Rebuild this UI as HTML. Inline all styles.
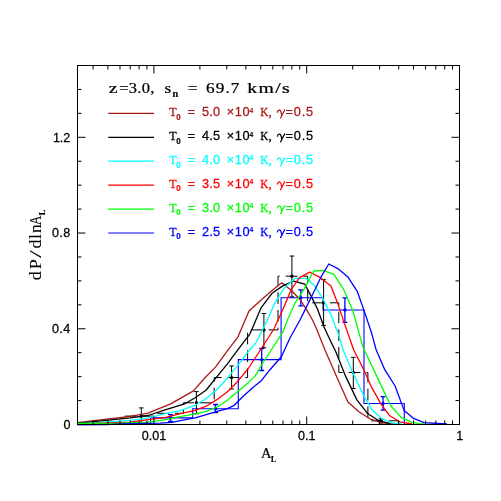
<!DOCTYPE html><html><head><meta charset="utf-8"><style>html,body{margin:0;padding:0;background:#fff}svg{display:block;will-change:transform}text{font-family:"Liberation Sans",sans-serif}.s{font-family:"Liberation Serif",serif}</style></head><body>
<svg width="501" height="501" viewBox="0 0 501 501">
<rect width="501" height="501" fill="#fff"/>
<polyline fill="none" stroke="#0000ff" stroke-width="1.1" points="77.5,424.6 108.2,424.6 108.2,423.2 150.5,423.2 150.5,417.9 192.7,417.9 192.7,408.7 238.3,408.7 238.3,359.6 281.1,359.6 281.1,297.8 323.0,297.8 323.0,310.0 364.0,310.0 364.0,403.5 404.3,403.5 404.3,424.0"/>
<g stroke="#0000ff" stroke-width="1.3" fill="#0000ff">
<path d="M170.5 414.6V421.4M168.0 414.6h5M168.0 421.4h5" fill="none"/>
<circle cx="170.5" cy="417.9" r="1.7" stroke="none"/>
<path d="M215.5 404.5V412.6M213.0 404.5h5M213.0 412.6h5" fill="none"/>
<circle cx="215.5" cy="408.7" r="1.7" stroke="none"/>
<path d="M261.7 348.5V370.5M259.2 348.5h5M259.2 370.5h5" fill="none"/>
<circle cx="261.7" cy="359.6" r="1.7" stroke="none"/>
<path d="M300.8 289.9V305.8M298.3 289.9h5M298.3 305.8h5" fill="none"/>
<circle cx="300.8" cy="297.8" r="1.7" stroke="none"/>
<path d="M344.9 297.9V322.3M342.4 297.9h5M342.4 322.3h5" fill="none"/>
<circle cx="344.9" cy="310.0" r="1.7" stroke="none"/>
<path d="M383.0 396.6V410.2M380.5 396.6h5M380.5 410.2h5" fill="none"/>
<circle cx="383.0" cy="403.5" r="1.7" stroke="none"/>
</g>
<polyline fill="none" stroke="#000" stroke-width="1" stroke-dasharray="11.7,6" stroke-dashoffset="15.5" points="77.5,424.2 94.0,424.2 94.0,423.4 124.7,423.4 124.7,416.1 153.9,416.1 153.9,413.3 183.4,413.3 183.4,402.8 214.2,402.8 214.2,377.5 247.6,377.5 247.6,329.9 278.0,329.9 278.0,276.2 307.7,276.2 307.7,302.8 338.8,302.8 338.8,372.5 367.9,372.5 367.9,420.8 398.4,420.8 398.4,424.0"/>
<g stroke="#000" stroke-width="1" fill="#000">
<path d="M141.3 407.9V424.0M139.0 407.9h4.6M139.0 424.0h4.6" fill="none"/>
<circle cx="141.3" cy="416.1" r="1.7" stroke="none"/>
<path d="M196.4 391.6V413.8M194.1 391.6h4.6M194.1 413.8h4.6" fill="none"/>
<circle cx="196.4" cy="402.8" r="1.7" stroke="none"/>
<path d="M231.6 365.9V389.0M229.3 365.9h4.6M229.3 389.0h4.6" fill="none"/>
<circle cx="231.6" cy="377.6" r="1.7" stroke="none"/>
<path d="M263.9 313.5V347.8M261.6 313.5h4.6M261.6 347.8h4.6" fill="none"/>
<circle cx="263.9" cy="329.9" r="1.7" stroke="none"/>
<path d="M291.9 256.0V296.8M289.6 256.0h4.6M289.6 296.8h4.6" fill="none"/>
<circle cx="291.9" cy="276.2" r="1.7" stroke="none"/>
<path d="M323.6 279.6V325.4M321.3 279.6h4.6M321.3 325.4h4.6" fill="none"/>
<circle cx="323.6" cy="302.8" r="1.7" stroke="none"/>
<path d="M353.3 357.3V388.5M351.0 357.3h4.6M351.0 388.5h4.6" fill="none"/>
<circle cx="353.3" cy="372.5" r="1.7" stroke="none"/>
<path d="M380.9 418.8V423.0M378.6 418.8h4.6M378.6 423.0h4.6" fill="none"/>
<circle cx="380.9" cy="420.8" r="1.7" stroke="none"/>
</g>
<g fill="none" stroke-width="1.3" stroke-linejoin="round">
<polyline stroke="#a81818" points="77.4,422.7 130.0,416.4 148.0,413.1 170.7,403.9 193.5,390.9 204.5,378.2 215.5,367.1 226.6,351.9 238.0,336.8 249.0,310.9 260.0,300.9 272.0,290.5 281.8,282.8 291.5,290.5 300.6,300.3 306.9,310.1 312.5,320.0 317.0,330.0 325.0,350.0 335.9,374.9 347.9,401.9 358.9,411.8 369.9,418.8 381.9,422.8 395.8,423.8"/>
<polyline stroke="#000000" points="77.4,423.3 130.0,417.9 148.0,415.5 165.9,409.6 183.9,404.2 195.2,397.7 206.2,390.0 216.4,377.3 227.4,363.8 237.6,350.2 250.0,333.8 261.0,307.9 272.0,293.3 283.2,285.6 293.6,281.0 304.8,284.2 311.1,296.1 317.4,308.7 323.9,326.8 330.9,341.8 335.9,352.0 345.9,376.9 356.9,399.9 367.9,413.8 378.9,420.8 389.8,423.4"/>
<polyline stroke="#00ffff" points="77.4,423.8 130.0,420.3 148.0,417.9 165.9,413.7 180.3,410.7 195.2,405.3 206.2,398.5 217.2,389.2 227.4,378.2 238.4,364.6 248.6,351.0 256.0,342.8 266.0,322.9 274.8,303.1 284.6,287.7 295.0,278.4 306.2,278.4 314.6,285.6 322.3,297.5 331.9,316.9 338.9,335.8 343.9,352.0 352.9,372.9 362.9,393.9 371.9,409.8 381.9,418.8 391.8,422.8 401.8,423.8"/>
<polyline stroke="#ff0000" points="77.4,424.0 130.0,422.1 148.0,419.7 165.9,417.3 180.3,413.7 195.2,410.4 206.2,406.2 217.2,399.4 227.4,391.7 238.4,380.7 248.6,368.0 259.7,351.0 273.9,329.0 283.2,308.7 290.8,290.5 299.2,277.9 309.7,272.1 320.9,277.9 330.9,285.9 337.6,302.9 343.9,321.9 353.7,350.0 363.9,369.9 371.9,387.9 380.9,403.9 389.8,415.8 399.8,421.8 412.0,424.0"/>
<polyline stroke="#00ff00" points="77.4,423.3 120.0,423.2 148.0,422.1 165.9,419.7 180.3,416.7 195.2,413.8 206.2,411.3 217.2,407.0 227.4,400.2 238.4,390.9 248.6,382.4 255.4,375.6 261.3,365.4 268.0,355.0 283.0,331.8 287.4,320.0 295.0,303.1 304.1,289.1 313.6,271.0 323.0,270.3 333.9,274.4 343.9,289.9 352.6,309.9 362.9,347.0 371.9,365.9 379.9,382.9 388.8,401.5 392.0,407.2 401.4,417.6 411.3,422.1 419.0,423.7 425.0,424.2"/>
<polyline stroke="#0000ff" points="77.4,424.6 112.0,424.4 130.0,423.7 160.0,423.2 172.0,422.3 182.7,420.2 195.2,417.8 206.2,414.7 217.2,411.3 227.4,408.7 234.2,405.3 242.7,396.8 252.9,387.5 261.3,380.7 270.0,369.7 281.5,356.5 290.0,338.0 300.0,320.0 304.9,310.1 313.2,293.3 320.9,277.2 328.8,264.0 338.4,268.9 348.2,277.3 357.2,291.3 364.2,310.9 371.8,333.8 376.2,350.0 384.9,369.9 395.1,386.0 404.1,410.4 413.1,418.1 424.0,422.6 447.0,424.0"/>
</g>
<g stroke="#000" stroke-width="1" fill="none">
<rect x="77.50" y="65.50" width="382.00" height="359.00"/>
<path d="M93.09 424.50v-4.0M93.09 65.50v4.0M107.90 424.50v-4.0M107.90 65.50v4.0M120.00 424.50v-4.0M120.00 65.50v4.0M130.23 424.50v-4.0M130.23 65.50v4.0M139.09 424.50v-4.0M139.09 65.50v4.0M146.91 424.50v-4.0M146.91 65.50v4.0M153.90 424.50v-8.0M153.90 65.50v8.0M199.90 424.50v-4.0M199.90 65.50v4.0M226.80 424.50v-4.0M226.80 65.50v4.0M245.89 424.50v-4.0M245.89 65.50v4.0M260.70 424.50v-4.0M260.70 65.50v4.0M272.80 424.50v-4.0M272.80 65.50v4.0M283.03 424.50v-4.0M283.03 65.50v4.0M291.89 424.50v-4.0M291.89 65.50v4.0M299.71 424.50v-4.0M299.71 65.50v4.0M306.70 424.50v-8.0M306.70 65.50v8.0M352.70 424.50v-4.0M352.70 65.50v4.0M379.60 424.50v-4.0M379.60 65.50v4.0M398.69 424.50v-4.0M398.69 65.50v4.0M413.50 424.50v-4.0M413.50 65.50v4.0M425.60 424.50v-4.0M425.60 65.50v4.0M435.83 424.50v-4.0M435.83 65.50v4.0M444.69 424.50v-4.0M444.69 65.50v4.0M452.51 424.50v-4.0M452.51 65.50v4.0M77.50 400.57h4.0M459.50 400.57h-4.0M77.50 376.63h4.0M459.50 376.63h-4.0M77.50 352.70h4.0M459.50 352.70h-4.0M77.50 328.77h8.0M459.50 328.77h-8.0M77.50 304.83h4.0M459.50 304.83h-4.0M77.50 280.90h4.0M459.50 280.90h-4.0M77.50 256.97h4.0M459.50 256.97h-4.0M77.50 233.04h8.0M459.50 233.04h-8.0M77.50 209.10h4.0M459.50 209.10h-4.0M77.50 185.17h4.0M459.50 185.17h-4.0M77.50 161.24h4.0M459.50 161.24h-4.0M77.50 137.30h8.0M459.50 137.30h-8.0M77.50 113.37h4.0M459.50 113.37h-4.0M77.50 89.44h4.0M459.50 89.44h-4.0"/>
</g>
<text transform="translate(63.60,428.70) scale(1.030,1)" font-size="12.2" fill="#000" stroke="#000" stroke-width="0.25" textLength="6.41" lengthAdjust="spacing" >0</text>
<text transform="translate(52.00,332.97) scale(1.030,1)" font-size="12.2" fill="#000" stroke="#000" stroke-width="0.25" textLength="17.67" lengthAdjust="spacing" >0.4</text>
<text transform="translate(52.00,237.24) scale(1.030,1)" font-size="12.2" fill="#000" stroke="#000" stroke-width="0.25" textLength="17.67" lengthAdjust="spacing" >0.8</text>
<text transform="translate(53.00,141.50) scale(1.030,1)" font-size="12.2" fill="#000" stroke="#000" stroke-width="0.25" textLength="16.70" lengthAdjust="spacing" >1.2</text>
<text transform="translate(141.65,439.50) scale(1.030,1)" font-size="12.2" fill="#000" stroke="#000" stroke-width="0.25" textLength="23.79" lengthAdjust="spacing" >0.01</text>
<text transform="translate(297.90,439.50) scale(1.030,1)" font-size="12.2" fill="#000" stroke="#000" stroke-width="0.25" textLength="17.09" lengthAdjust="spacing" >0.1</text>
<text transform="translate(456.30,439.50) scale(1.030,1)" font-size="12.2" fill="#000" stroke="#000" stroke-width="0.25" textLength="6.21" lengthAdjust="spacing" >1</text>
<text class="s" transform="translate(260.90,457.80) scale(0.970,1)" font-size="15" fill="#000" stroke="#000" stroke-width="0.25" >A</text>
<text class="s" transform="translate(270.80,462.40) scale(1.000,1)" font-size="8.5" fill="#000" stroke="#000" stroke-width="0.1" font-weight="bold">L</text>
<g transform="translate(40.6,280.2) rotate(-90)">
<text class="s" transform="translate(0.00,0.00) scale(1.100,1)" font-size="16.5" fill="#000" stroke="#000" stroke-width="0.05" textLength="19.09" lengthAdjust="spacing" >dP</text>
<text class="s" transform="translate(22.20,0.00) scale(1.700,1)" font-size="16.5" fill="#000" stroke="#000" stroke-width="0.05" >/</text>
<text class="s" transform="translate(31.70,0.00) scale(1.100,1)" font-size="16.5" fill="#000" stroke="#000" stroke-width="0.05" textLength="22.09" lengthAdjust="spacing" >dln</text>
<text class="s" transform="translate(55.20,0.00) scale(0.800,1)" font-size="16.5" fill="#000" stroke="#000" stroke-width="0.05" >A</text>
<text class="s" transform="translate(65.00,4.00) scale(1.000,1)" font-size="8.5" fill="#000" stroke="#000" stroke-width="0.1" font-weight="bold">L</text>
</g>
<text class="s" transform="translate(108.70,92.90) scale(1.320,1)" font-size="15" fill="#000" stroke="#000" stroke-width="0.25" >z</text>
<text class="s" transform="translate(119.20,92.90) scale(1.100,1)" font-size="15" fill="#000" stroke="#000" stroke-width="0.25" textLength="32.00" lengthAdjust="spacing" >=3.0,</text>
<text class="s" transform="translate(164.60,92.90) scale(1.150,1)" font-size="15" fill="#000" stroke="#000" stroke-width="0.25" >s</text>
<text class="s" transform="translate(172.40,96.70) scale(1.100,1)" font-size="9.5" fill="#000" stroke="#000" stroke-width="0.1" font-weight="bold">n</text>
<text class="s" transform="translate(187.80,92.90) scale(1.150,1)" font-size="15" fill="#000" stroke="#000" stroke-width="0.25" >=</text>
<text class="s" transform="translate(206.00,92.90) scale(1.150,1)" font-size="15" fill="#000" stroke="#000" stroke-width="0.25" textLength="29.04" lengthAdjust="spacing" >69.7</text>
<text class="s" transform="translate(247.20,92.90) scale(1.320,1)" font-size="15" fill="#000" stroke="#000" stroke-width="0.25" textLength="32.27" lengthAdjust="spacing" >km/s</text>
<line x1="108.2" x2="154" y1="113.4" y2="113.4" stroke="#a81818" stroke-width="1.2"/>
<text class="s" transform="translate(169.20,115.97) scale(0.900,1)" font-size="13.4" fill="#a81818" stroke="#a81818" stroke-width="0.3" >T</text>
<text transform="translate(176.20,119.67) scale(0.920,1)" font-size="8.8" fill="#a81818" stroke="#a81818" stroke-width="0.2" font-weight="bold">0</text>
<text transform="translate(187.40,115.97) scale(1.050,1)" font-size="12.3" fill="#a81818" stroke="#a81818" stroke-width="0.25" >=</text>
<text transform="translate(202.00,115.97) scale(1.040,1)" font-size="12.3" fill="#a81818" stroke="#a81818" stroke-width="0.25" textLength="17.50" lengthAdjust="spacing" >5.0</text>
<text transform="translate(226.80,115.97) scale(1.040,1)" font-size="12.3" fill="#a81818" stroke="#a81818" stroke-width="0.25" textLength="21.92" lengthAdjust="spacing" >×10</text>
<text transform="translate(249.40,112.57) scale(0.900,1)" font-size="7.6" fill="#a81818" stroke="#a81818" stroke-width="0.1" font-weight="bold">4</text>
<text class="s" transform="translate(260.20,115.97) scale(0.850,1)" font-size="13.2" fill="#a81818" stroke="#a81818" stroke-width="0.3" >K</text>
<text class="s" transform="translate(268.40,115.97) scale(1.000,1)" font-size="13.2" fill="#a81818" stroke="#a81818" stroke-width="0.3" >,</text>
<path transform="translate(0,-0.03)" fill="none" stroke="#a81818" stroke-width="1.25" stroke-linecap="round" stroke-linejoin="round" d="M277.4 112.3Q278.2 109.7 279.7 110.2Q281.3 111 281.7 115.6M284.7 110Q282.6 113.8 280.6 118"/>
<text transform="translate(285.60,115.97) scale(1.040,1)" font-size="12.3" fill="#a81818" stroke="#a81818" stroke-width="0.25" textLength="26.54" lengthAdjust="spacing" >=0.5</text>
<line x1="108.2" x2="154" y1="137.3" y2="137.3" stroke="#000000" stroke-width="1.2"/>
<text class="s" transform="translate(169.20,139.90) scale(0.900,1)" font-size="13.4" fill="#000000" stroke="#000000" stroke-width="0.3" >T</text>
<text transform="translate(176.20,143.60) scale(0.920,1)" font-size="8.8" fill="#000000" stroke="#000000" stroke-width="0.2" font-weight="bold">0</text>
<text transform="translate(187.40,139.90) scale(1.050,1)" font-size="12.3" fill="#000000" stroke="#000000" stroke-width="0.25" >=</text>
<text transform="translate(202.00,139.90) scale(1.040,1)" font-size="12.3" fill="#000000" stroke="#000000" stroke-width="0.25" textLength="17.50" lengthAdjust="spacing" >4.5</text>
<text transform="translate(226.80,139.90) scale(1.040,1)" font-size="12.3" fill="#000000" stroke="#000000" stroke-width="0.25" textLength="21.92" lengthAdjust="spacing" >×10</text>
<text transform="translate(249.40,136.50) scale(0.900,1)" font-size="7.6" fill="#000000" stroke="#000000" stroke-width="0.1" font-weight="bold">4</text>
<text class="s" transform="translate(260.20,139.90) scale(0.850,1)" font-size="13.2" fill="#000000" stroke="#000000" stroke-width="0.3" >K</text>
<text class="s" transform="translate(268.40,139.90) scale(1.000,1)" font-size="13.2" fill="#000000" stroke="#000000" stroke-width="0.3" >,</text>
<path transform="translate(0,23.90)" fill="none" stroke="#000000" stroke-width="1.25" stroke-linecap="round" stroke-linejoin="round" d="M277.4 112.3Q278.2 109.7 279.7 110.2Q281.3 111 281.7 115.6M284.7 110Q282.6 113.8 280.6 118"/>
<text transform="translate(285.60,139.90) scale(1.040,1)" font-size="12.3" fill="#000000" stroke="#000000" stroke-width="0.25" textLength="26.54" lengthAdjust="spacing" >=0.5</text>
<line x1="108.2" x2="154" y1="161.2" y2="161.2" stroke="#00ffff" stroke-width="1.2"/>
<text class="s" transform="translate(169.20,163.84) scale(0.900,1)" font-size="13.4" fill="#00ffff" stroke="#00ffff" stroke-width="0.3" >T</text>
<text transform="translate(176.20,167.54) scale(0.920,1)" font-size="8.8" fill="#00ffff" stroke="#00ffff" stroke-width="0.2" font-weight="bold">0</text>
<text transform="translate(187.40,163.84) scale(1.050,1)" font-size="12.3" fill="#00ffff" stroke="#00ffff" stroke-width="0.25" >=</text>
<text transform="translate(202.00,163.84) scale(1.040,1)" font-size="12.3" fill="#00ffff" stroke="#00ffff" stroke-width="0.25" textLength="17.50" lengthAdjust="spacing" >4.0</text>
<text transform="translate(226.80,163.84) scale(1.040,1)" font-size="12.3" fill="#00ffff" stroke="#00ffff" stroke-width="0.25" textLength="21.92" lengthAdjust="spacing" >×10</text>
<text transform="translate(249.40,160.44) scale(0.900,1)" font-size="7.6" fill="#00ffff" stroke="#00ffff" stroke-width="0.1" font-weight="bold">4</text>
<text class="s" transform="translate(260.20,163.84) scale(0.850,1)" font-size="13.2" fill="#00ffff" stroke="#00ffff" stroke-width="0.3" >K</text>
<text class="s" transform="translate(268.40,163.84) scale(1.000,1)" font-size="13.2" fill="#00ffff" stroke="#00ffff" stroke-width="0.3" >,</text>
<path transform="translate(0,47.84)" fill="none" stroke="#00ffff" stroke-width="1.25" stroke-linecap="round" stroke-linejoin="round" d="M277.4 112.3Q278.2 109.7 279.7 110.2Q281.3 111 281.7 115.6M284.7 110Q282.6 113.8 280.6 118"/>
<text transform="translate(285.60,163.84) scale(1.040,1)" font-size="12.3" fill="#00ffff" stroke="#00ffff" stroke-width="0.25" textLength="26.54" lengthAdjust="spacing" >=0.5</text>
<line x1="108.2" x2="154" y1="185.2" y2="185.2" stroke="#ff0000" stroke-width="1.2"/>
<text class="s" transform="translate(169.20,187.77) scale(0.900,1)" font-size="13.4" fill="#ff0000" stroke="#ff0000" stroke-width="0.3" >T</text>
<text transform="translate(176.20,191.47) scale(0.920,1)" font-size="8.8" fill="#ff0000" stroke="#ff0000" stroke-width="0.2" font-weight="bold">0</text>
<text transform="translate(187.40,187.77) scale(1.050,1)" font-size="12.3" fill="#ff0000" stroke="#ff0000" stroke-width="0.25" >=</text>
<text transform="translate(202.00,187.77) scale(1.040,1)" font-size="12.3" fill="#ff0000" stroke="#ff0000" stroke-width="0.25" textLength="17.50" lengthAdjust="spacing" >3.5</text>
<text transform="translate(226.80,187.77) scale(1.040,1)" font-size="12.3" fill="#ff0000" stroke="#ff0000" stroke-width="0.25" textLength="21.92" lengthAdjust="spacing" >×10</text>
<text transform="translate(249.40,184.37) scale(0.900,1)" font-size="7.6" fill="#ff0000" stroke="#ff0000" stroke-width="0.1" font-weight="bold">4</text>
<text class="s" transform="translate(260.20,187.77) scale(0.850,1)" font-size="13.2" fill="#ff0000" stroke="#ff0000" stroke-width="0.3" >K</text>
<text class="s" transform="translate(268.40,187.77) scale(1.000,1)" font-size="13.2" fill="#ff0000" stroke="#ff0000" stroke-width="0.3" >,</text>
<path transform="translate(0,71.77)" fill="none" stroke="#ff0000" stroke-width="1.25" stroke-linecap="round" stroke-linejoin="round" d="M277.4 112.3Q278.2 109.7 279.7 110.2Q281.3 111 281.7 115.6M284.7 110Q282.6 113.8 280.6 118"/>
<text transform="translate(285.60,187.77) scale(1.040,1)" font-size="12.3" fill="#ff0000" stroke="#ff0000" stroke-width="0.25" textLength="26.54" lengthAdjust="spacing" >=0.5</text>
<line x1="108.2" x2="154" y1="209.1" y2="209.1" stroke="#00ff00" stroke-width="1.2"/>
<text class="s" transform="translate(169.20,211.70) scale(0.900,1)" font-size="13.4" fill="#00ff00" stroke="#00ff00" stroke-width="0.3" >T</text>
<text transform="translate(176.20,215.40) scale(0.920,1)" font-size="8.8" fill="#00ff00" stroke="#00ff00" stroke-width="0.2" font-weight="bold">0</text>
<text transform="translate(187.40,211.70) scale(1.050,1)" font-size="12.3" fill="#00ff00" stroke="#00ff00" stroke-width="0.25" >=</text>
<text transform="translate(202.00,211.70) scale(1.040,1)" font-size="12.3" fill="#00ff00" stroke="#00ff00" stroke-width="0.25" textLength="17.50" lengthAdjust="spacing" >3.0</text>
<text transform="translate(226.80,211.70) scale(1.040,1)" font-size="12.3" fill="#00ff00" stroke="#00ff00" stroke-width="0.25" textLength="21.92" lengthAdjust="spacing" >×10</text>
<text transform="translate(249.40,208.30) scale(0.900,1)" font-size="7.6" fill="#00ff00" stroke="#00ff00" stroke-width="0.1" font-weight="bold">4</text>
<text class="s" transform="translate(260.20,211.70) scale(0.850,1)" font-size="13.2" fill="#00ff00" stroke="#00ff00" stroke-width="0.3" >K</text>
<text class="s" transform="translate(268.40,211.70) scale(1.000,1)" font-size="13.2" fill="#00ff00" stroke="#00ff00" stroke-width="0.3" >,</text>
<path transform="translate(0,95.70)" fill="none" stroke="#00ff00" stroke-width="1.25" stroke-linecap="round" stroke-linejoin="round" d="M277.4 112.3Q278.2 109.7 279.7 110.2Q281.3 111 281.7 115.6M284.7 110Q282.6 113.8 280.6 118"/>
<text transform="translate(285.60,211.70) scale(1.040,1)" font-size="12.3" fill="#00ff00" stroke="#00ff00" stroke-width="0.25" textLength="26.54" lengthAdjust="spacing" >=0.5</text>
<line x1="108.2" x2="154" y1="233.0" y2="233.0" stroke="#0000ff" stroke-width="1.2"/>
<text class="s" transform="translate(169.20,235.64) scale(0.900,1)" font-size="13.4" fill="#0000ff" stroke="#0000ff" stroke-width="0.3" >T</text>
<text transform="translate(176.20,239.34) scale(0.920,1)" font-size="8.8" fill="#0000ff" stroke="#0000ff" stroke-width="0.2" font-weight="bold">0</text>
<text transform="translate(187.40,235.64) scale(1.050,1)" font-size="12.3" fill="#0000ff" stroke="#0000ff" stroke-width="0.25" >=</text>
<text transform="translate(202.00,235.64) scale(1.040,1)" font-size="12.3" fill="#0000ff" stroke="#0000ff" stroke-width="0.25" textLength="17.50" lengthAdjust="spacing" >2.5</text>
<text transform="translate(226.80,235.64) scale(1.040,1)" font-size="12.3" fill="#0000ff" stroke="#0000ff" stroke-width="0.25" textLength="21.92" lengthAdjust="spacing" >×10</text>
<text transform="translate(249.40,232.24) scale(0.900,1)" font-size="7.6" fill="#0000ff" stroke="#0000ff" stroke-width="0.1" font-weight="bold">4</text>
<text class="s" transform="translate(260.20,235.64) scale(0.850,1)" font-size="13.2" fill="#0000ff" stroke="#0000ff" stroke-width="0.3" >K</text>
<text class="s" transform="translate(268.40,235.64) scale(1.000,1)" font-size="13.2" fill="#0000ff" stroke="#0000ff" stroke-width="0.3" >,</text>
<path transform="translate(0,119.64)" fill="none" stroke="#0000ff" stroke-width="1.25" stroke-linecap="round" stroke-linejoin="round" d="M277.4 112.3Q278.2 109.7 279.7 110.2Q281.3 111 281.7 115.6M284.7 110Q282.6 113.8 280.6 118"/>
<text transform="translate(285.60,235.64) scale(1.040,1)" font-size="12.3" fill="#0000ff" stroke="#0000ff" stroke-width="0.25" textLength="26.54" lengthAdjust="spacing" >=0.5</text>
</svg></body></html>
